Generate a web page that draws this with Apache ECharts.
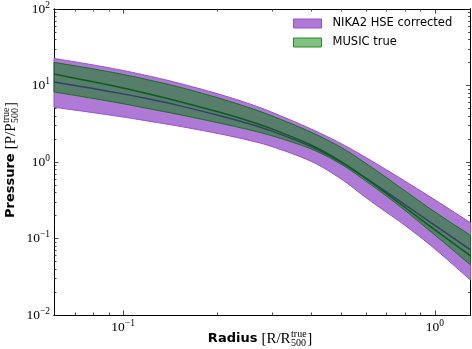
<!DOCTYPE html>
<html>
<head>
<meta charset="utf-8">
<script src="https://cdn.jsdelivr.net/npm/echarts@6/dist/echarts.min.js"></script>
<style>
  html, body { margin: 0; padding: 0; background: #fff; }
  #chart { width: 472px; height: 349px; }
</style>
</head>
<body>
<div id="chart"></div>
<script>
// radius in R/R500 (true)
var radius = [0.06, 0.08, 0.1, 0.12, 0.15, 0.2, 0.25, 0.3, 0.4, 0.5, 0.6, 0.7, 0.8, 1.0, 1.3];
// NIKA2 HSE corrected: envelope and median
var nikaHigh = [22.6, 18.6, 15.7, 13.4, 10.8, 7.84, 5.89, 4.47, 2.71, 1.74, 1.146, 0.788, 0.565, 0.320, 0.161];
var nikaLow  = [5.20, 4.42, 3.87, 3.43, 2.95, 2.37, 1.945, 1.59, 1.024, 0.600, 0.343, 0.219, 0.149, 0.0730, 0.0286];
var nikaMid  = [11.1, 9.12, 7.77, 6.70, 5.50, 4.11, 3.21, 2.53, 1.59, 0.991, 0.616, 0.403, 0.277, 0.1485, 0.0710];
// MUSIC true: envelope and median
var musicHigh = [20.1, 16.5, 13.95, 11.9, 9.62, 6.96, 5.23, 4.01, 2.46, 1.55, 0.962, 0.622, 0.422, 0.222, 0.110];
var musicLow  = [8.24, 6.78, 5.77, 5.00, 4.19, 3.28, 2.67, 2.20, 1.484, 0.934, 0.564, 0.356, 0.234, 0.1106, 0.0452];
var musicMid  = [14.1, 11.2, 9.26, 7.79, 6.23, 4.56, 3.49, 2.71, 1.667, 1.012, 0.611, 0.385, 0.256, 0.130, 0.0591];

// ticks
var xMajor = [0.1, 1];
var xMinor = [0.06, 0.07, 0.08, 0.09, 0.2, 0.3, 0.4, 0.5, 0.6, 0.7, 0.8, 0.9];
var yMajor = [0.01, 0.1, 1, 10, 100];
var yMinor = [0.02, 0.03, 0.04, 0.05, 0.06, 0.07, 0.08, 0.09,
              0.2, 0.3, 0.4, 0.5, 0.6, 0.7, 0.8, 0.9,
              2, 3, 4, 5, 6, 7, 8, 9,
              20, 30, 40, 50, 60, 70, 80, 90];

var SERIF = 'Liberation Serif';
var SANS = 'DejaVu Sans';

function powLabel(v) {
  var e = Math.round(Math.log10(v));
  return '{b|10}{e|' + (e < 0 ? '\u2212' + (-e) : e) + '}';
}
var powRich = {
  b: { fontFamily: SERIF, fontSize: 13.5, color: '#000' },
  e: { fontFamily: SERIF, fontSize: 9.5, color: '#000', padding: [0, 0, 8, 0] }
};

function xAx(pos, ticks, len, labels) {
  return {
    type: 'log', logBase: 10, min: 0.06, max: 1.3, position: pos,
    axisLine: { show: true, onZero: false, lineStyle: { color: '#000', width: 1 } },
    axisTick: { show: true, inside: true, length: len, customValues: ticks, lineStyle: { color: '#222', width: 0.8 } },
    axisLabel: labels ? { show: true, customValues: ticks, formatter: powLabel, rich: powRich, margin: 3 } : { show: false },
    splitLine: { show: false }
  };
}
function yAx(pos, ticks, len, labels) {
  return {
    type: 'log', logBase: 10, min: 0.01, max: 100, position: pos,
    axisLine: { show: true, onZero: false, lineStyle: { color: '#000', width: 1 } },
    axisTick: { show: true, inside: true, length: len, customValues: ticks, lineStyle: { color: '#222', width: 0.8 } },
    axisLabel: labels ? { show: true, customValues: ticks, formatter: powLabel, rich: powRich, margin: 4 } : { show: false },
    splitLine: { show: false }
  };
}

// smooth curve through pixel points (catmull-rom), only for drawing
function curve(p) {
  var out = [];
  for (var i = 0; i < p.length - 1; i++) {
    var a = p[Math.max(i - 1, 0)], b = p[i], c = p[i + 1], d = p[Math.min(i + 2, p.length - 1)];
    for (var k = 0; k < 8; k++) {
      var t = k / 8, t2 = t * t, t3 = t2 * t;
      out.push([0, 1].map(function (j) {
        return 0.5 * ((2 * b[j]) + (-a[j] + c[j]) * t + (2 * a[j] - 5 * b[j] + 4 * c[j] - d[j]) * t2 + (-a[j] + 3 * b[j] - 3 * c[j] + d[j]) * t3);
      }));
    }
  }
  out.push(p[p.length - 1]);
  return out;
}

// band polygon through the axes
function band(high, low) {
  return function (params, api) {
    if (params.dataIndex !== 0) return;
    var up = radius.map(function (r, i) { return api.coord([r, high[i]]); });
    var dn = radius.map(function (r, i) { return api.coord([r, low[i]]); });
    var pts = curve(up).concat(curve(dn).reverse());
    return {
      type: 'polygon',
      shape: { points: pts },
      style: api.style()
    };
  };
}
function rows(a, b) {
  return radius.map(function (r, i) { return [r, a[i], b[i]]; });
}
function pairs(a) {
  return radius.map(function (r, i) { return [r, a[i]]; });
}

// axis titles with stacked super/subscripts
var ctx = document.createElement('canvas').getContext('2d');
function tw(t, font) { ctx.font = font; return ctx.measureText(t).width; }
function txt(t, font, x, y) {
  return { type: 'text', x: x, y: y,
    style: { text: t, font: font, fill: '#000', align: 'left', verticalAlign: 'middle', textAlign: 'left', textVerticalAlign: 'middle' } };
}
function mathTitle(word, letter) {
  var bold = 'bold 13px "' + SANS + '"';
  var rm = '15px "' + SERIF + '"';
  var sm = '10px "' + SERIF + '"';
  var kids = [], x = 0;
  kids.push(txt(word, bold, x, 0)); x += tw(word, bold) + 4;
  var s = '[' + letter + '/' + letter;
  kids.push(txt(s, rm, x, 0)); x += tw(s, rm) + 0.5;
  kids.push(txt('true', sm, x, -5));
  kids.push(txt('500', sm, x, 4.5));
  x += Math.max(tw('true', sm), tw('500', sm)) + 0.5;
  kids.push(txt(']', rm, x, 0)); x += tw(']', rm);
  kids.forEach(function (k) { k.x -= x / 2; });
  return kids;
}

var chart = echarts.init(document.getElementById('chart'), null, { renderer: 'canvas' });
chart.setOption({
  animation: false,
  backgroundColor: '#fff',
  grid: { left: 54, right: 1.5, top: 5, bottom: 34 },
  xAxis: [
    xAx('bottom', xMajor, 4.5, true),
    xAx('bottom', xMinor, 2.5, false),
    xAx('top', xMajor, 4.5, false),
    xAx('top', xMinor, 2.5, false)
  ],
  yAxis: [
    yAx('left', yMajor, 4.5, true),
    yAx('left', yMinor, 2.5, false),
    yAx('right', yMajor, 4.5, false),
    yAx('right', yMinor, 2.5, false)
  ],
  legend: {
    orient: 'vertical', left: 288, top: 7.5,
    padding: [10, 6, 10, 5],
    itemWidth: 28, itemHeight: 9, itemGap: 7,
    textStyle: { fontFamily: SANS, fontSize: 11.5, color: '#000', padding: [0, 0, 0, 6] },
    data: [
      { name: 'NIKA2 HSE corrected', icon: 'rect', itemStyle: { color: '#ae7ad6', borderColor: '#9a4fd0', borderWidth: 1 } },
      { name: 'MUSIC true', icon: 'rect', itemStyle: { color: 'rgb(128,192,128)', borderColor: 'rgb(40,140,40)', borderWidth: 1 } }
    ]
  },
  series: [
    {
      name: 'NIKA2 HSE corrected', type: 'custom', renderItem: band(nikaHigh, nikaLow),
      data: rows(nikaHigh, nikaLow), encode: { x: 0, y: [1, 2] },
      itemStyle: { color: '#ae7ad6', borderColor: '#9a4fd0', borderWidth: 1 }
    },
    {
      name: 'MUSIC true', type: 'custom', renderItem: band(musicHigh, musicLow),
      data: rows(musicHigh, musicLow), encode: { x: 0, y: [1, 2] },
      itemStyle: { color: 'rgba(0,128,0,0.5)', borderColor: 'rgba(0,110,0,0.8)', borderWidth: 1 }
    },
    {
      name: 'nika median', type: 'line', data: pairs(nikaMid), showSymbol: false, smooth: 0.3,
      lineStyle: { color: '#33406a', width: 1.5 }, itemStyle: { color: '#33406a' }
    },
    {
      name: 'music median', type: 'line', data: pairs(musicMid), showSymbol: false, smooth: 0.3,
      lineStyle: { color: '#0e5c1c', width: 1.5 }, itemStyle: { color: '#0e5c1c' }
    }
  ],
  graphic: [
    { type: 'group', x: 260, y: 339, children: mathTitle('Radius', 'R') },
    { type: 'group', x: 11, y: 160, rotation: Math.PI / 2, children: mathTitle('Pressure', 'P') }
  ]
});
</script>
</body>
</html>
